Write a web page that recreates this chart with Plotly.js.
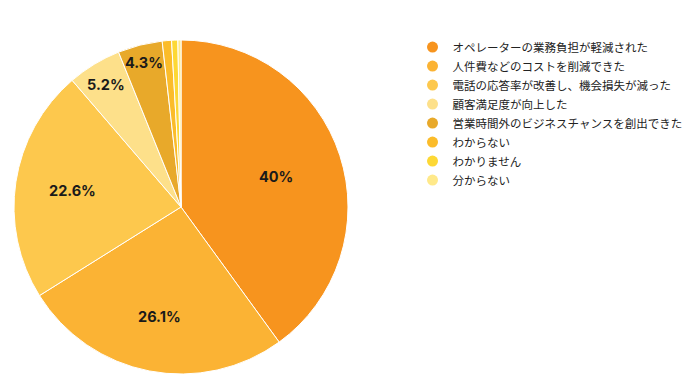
<!DOCTYPE html>
<html><head><meta charset="utf-8">
<script src="https://cdn.plot.ly/plotly-3.0.1.min.js"></script>
<style>html,body{margin:0;padding:0;background:#fff;}#chart{width:698px;height:383px;}</style>
</head><body><div id="chart"></div>
<script>
const labels = ["オペレーターの業務負担が軽減された","人件費などのコストを削減できた","電話の応答率が改善し、機会損失が減った","顧客満足度が向上した","営業時間外のビジネスチャンスを創出できた","わからない","わかりません","分からない"];
const values = [40, 26.1, 22.6, 5.2, 4.3, 0.9, 0.6, 0.3];
const sliceText = ["40%","26.1%","22.6%","5.2%","4.3%","","",""];
const colors = ["#F7941E","#FBB334","#FDC84D","#FDE08A","#E8A92A","#FBBC2A","#FDD835","#FFE98A"];
// label distance from centre as a fraction of radius (styling)
const labelRadius = [0.6, 0.67, 0.66, 0.86, 0.89, 0, 0, 0];

const W = 698, H = 383;
const cxPx = 181, cyPx = 207, R = 167;
const dom = {x: [(cxPx - R) / W, (cxPx + R) / W], y: [(H - cyPx - R) / H, (H - cyPx + R) / H]};

const pie = {
  type: "pie", labels: labels, values: values,
  textinfo: "none",
  sort: false, direction: "clockwise", rotation: 0,
  marker: {colors: colors, line: {color: "#ffffff", width: 1}},
  domain: dom, showlegend: false, hoverinfo: "label+percent"
};
const legendTraces = labels.map((l, i) => ({
  type: "scatter", mode: "markers", x: [null], y: [null], name: l,
  marker: {symbol: "circle", size: 11, color: colors[i]}, showlegend: true, hoverinfo: "skip"
}));

const total = values.reduce((a, b) => a + b, 0);
const annotations = [];
let cum = 0;
values.forEach((v, i) => {
  const mid = (cum + v / 2) / total * 2 * Math.PI;
  cum += v;
  if (!sliceText[i]) return;
  const r = R * labelRadius[i];
  annotations.push({
    xref: "paper", yref: "paper",
    x: (cxPx + r * Math.sin(mid)) / W,
    y: (H - cyPx + r * Math.cos(mid)) / H,
    text: sliceText[i], showarrow: false, xanchor: "center", yanchor: "middle",
    font: {family: "Inter, 'Noto Sans', sans-serif", size: 14.5, color: "#1a1a1a", weight: 700}
  });
});

Plotly.newPlot("chart", [pie, ...legendTraces], {
  width: W, height: H, margin: {l: 0, r: 0, t: 0, b: 0},
  paper_bgcolor: "#fff", plot_bgcolor: "#fff",
  xaxis: {visible: false}, yaxis: {visible: false},
  annotations: annotations,
  legend: {x: 0.591, y: 0.915, xanchor: "left", yanchor: "top", tracegroupgap: 0,
    font: {family: "'Noto Sans CJK JP', sans-serif", size: 11.5, color: "#222"}, itemwidth: 30},
  showlegend: true
}, {displayModeBar: false, staticPlot: true});
</script></body></html>
